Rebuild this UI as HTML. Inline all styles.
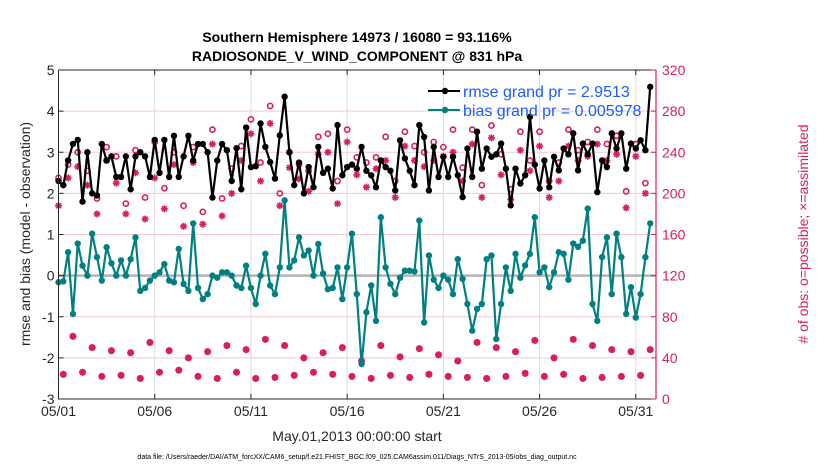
<!DOCTYPE html>
<html><head><meta charset="utf-8"><style>
body{margin:0;background:#fff;font-family:"Liberation Sans",sans-serif}
svg{display:block}
</style></head><body>
<svg id="chart" width="830" height="470" xmlns="http://www.w3.org/2000/svg">
<g id="grid"></g>
<g id="series"></g>
<g id="axes"></g>
<text x="357" y="42" text-anchor="middle" font-size="14" font-weight="bold">Southern Hemisphere 14973 / 16080 = 93.116%</text>
<text x="357" y="61" text-anchor="middle" font-size="14" font-weight="bold">RADIOSONDE_V_WIND_COMPONENT @ 831 hPa</text>
<text x="357" y="441" text-anchor="middle" font-size="14" fill="#262626">May.01,2013 00:00:00 start</text>
<text x="357" y="459" text-anchor="middle" font-size="7" fill="#000">data file: /Users/raeder/DAI/ATM_forcXX/CAM6_setup/f.e21.FHIST_BGC.f09_025.CAM6assim.011/Diags_NTrS_2013-05/obs_diag_output.nc</text>
<text transform="translate(30,234) rotate(-90)" text-anchor="middle" font-size="14" fill="#262626">rmse and bias (model - observation)</text>
<text transform="translate(808,234) rotate(-90)" text-anchor="middle" font-size="14" fill="#d81e5b"># of obs: o=possible; ×=assimilated</text>
<g>
<line x1="428" y1="91" x2="460" y2="91" stroke="#000" stroke-width="2"/><circle cx="445" cy="91" r="3.2" fill="#000"/>
<text x="463" y="97" font-size="16" fill="#1a5cff">rmse grand pr = 2.9513</text>
<line x1="428" y1="110" x2="460" y2="110" stroke="#008080" stroke-width="2"/><circle cx="445" cy="110" r="3.2" fill="#008080"/>
<text x="463" y="116" font-size="16" fill="#1a5cff">bias grand pr = 0.005978</text>
</g>
</svg>
<script>
const rmse=[2.3,2.2,2.8,3.2,3.3,1.8,3.0,2.0,1.95,3.2,2.8,2.9,2.4,2.4,2.9,2.1,2.9,3.0,2.9,2.4,3.3,2.5,3.3,2.4,3.4,2.4,2.9,3.4,2.8,3.2,3.2,3.0,1.9,2.8,3.2,3.05,2.3,3.1,2.1,3.6,
2.64,2.66,3.7,3.13,2.76,2.36,3.41,4.35,3.0,2.2,2.75,2.0,2.64,2.15,3.13,2.5,2.6,2.12,3.66,2.44,2.64,2.7,2.6,3.13,2.55,2.44,2.15,2.8,2.64,2.55,2.07,3.29,2.85,2.55,2.2,3.66,3.37,2.07,3.13,2.4,
2.89,2.4,2.89,2.44,1.91,3.09,2.4,3.5,2.6,3.09,2.89,2.95,3.21,2.6,1.71,2.6,2.24,2.44,3.86,2.7,2.12,2.8,2.15,2.89,2.56,3.09,2.95,3.46,2.56,3.21,2.95,3.21,2.03,2.8,2.64,3.46,3.09,3.46,2.6,3.21,3.09,3.29,3.05,4.59];
const bias=[-0.16,-0.14,0.57,-0.93,0.78,0.24,0,1.02,0.45,-0.12,0.69,0.3,0.0,0.37,0.0,0.4,0.93,-0.37,-0.3,-0.12,0.0,0.08,0.28,-0.12,-0.16,0.65,-0.2,-0.37,1.27,-0.3,-0.57,-0.45,0.0,-0.05,0.08,0.08,0.0,-0.24,-0.3,0.24,
-0.3,-0.69,0.0,0.53,-0.24,-0.45,0.2,1.83,0.2,0.37,0.93,0.49,0.61,0.0,0.77,0.05,-0.33,-0.3,0.2,-0.57,0.2,1.02,-0.45,-2.15,-0.89,-0.24,-1.1,1.42,0.2,-0.2,-0.45,-0.05,0.12,0.12,0.1,1.34,-1.14,0.49,-0.1,-0.3,
0.0,-0.1,-0.45,0.4,-0.08,-0.69,-1.34,-0.81,-0.69,0.4,0.49,-1.54,-0.69,0.2,-0.37,0.53,-0.05,0.25,0.53,1.42,0.08,0.2,-0.28,0.08,0.57,0.53,-0.1,0.78,0.7,0.85,1.63,-0.69,-1.1,0.45,0.93,-0.45,1.02,0.45,-0.93,-0.28,-1.02,-0.45,0.45,1.27];
const nPossible=[215,24,228,61,240,26,222,50,195,22,245,47,236,23,190,45,242,20,196,55,250,26,205,47,240,28,188,40,245,22,182,46,262,20,195,52,224,26,246,48,
272,20,230,58,285,21,200,52,240,23,228,40,222,26,255,45,258,24,212,50,262,22,235,37,230,20,235,52,255,23,212,41,260,21,246,49,240,24,250,43,
245,22,262,37,225,21,262,55,208,20,266,50,238,22,204,46,260,25,232,57,260,22,212,40,230,24,262,58,242,20,250,52,262,21,248,48,256,22,202,46,248,23,210,48];
const nAssim=[188,24,215,61,226,26,208,50,180,22,232,47,210,23,180,45,220,20,175,55,215,26,185,47,228,28,168,40,230,22,170,46,248,20,178,52,200,26,232,48,
258,20,212,58,268,21,188,52,225,23,214,40,202,26,238,45,240,24,190,50,250,22,218,37,206,20,224,52,232,23,196,41,246,21,232,49,226,24,232,43,
236,22,240,37,212,21,248,55,196,20,254,50,218,22,194,46,242,25,222,57,246,22,196,40,212,24,246,58,232,20,236,52,248,21,232,48,238,22,186,46,236,23,200,48];
const leftTicks=[-3,-2,-1,0,1,2,3,4,5];
const rightTicks=[0,40,80,120,160,200,240,280,320];
const dateTicks=[0,5,10,15,20,25,30];
const dateLabels=["05/01","05/06","05/11","05/16","05/21","05/26","05/31"];

const X0=58.5,X1=656,Y0=399,Y1=70,DAYS=31.05;
const NS="http://www.w3.org/2000/svg";
const xDay=d=>X0+d*(X1-X0)/DAYS;
const xIdx=i=>xDay(i*0.25);
const yL=v=>Y0-(v+3)*(Y0-Y1)/8;
const yR=v=>Y0-v*(Y0-Y1)/320;
const MAG="#d81e5b";
function mk(parent,tag,attrs){const e=document.createElementNS(NS,tag);for(const k in attrs)e.setAttribute(k,attrs[k]);parent.appendChild(e);return e;}
const gridG=document.getElementById('grid'),ser=document.getElementById('series'),ax=document.getElementById('axes');

rightTicks.forEach(t=>{if(t>0&&t<320){const l=mk(gridG,'line',{x1:X0,x2:X1,y1:yR(t),y2:yR(t),stroke:'#f4c8d6','stroke-width':1});

}});
dateTicks.forEach(d=>{const l=mk(gridG,'line',{x1:xDay(d),x2:xDay(d),y1:Y1,y2:Y0,stroke:'#dcdcdc','stroke-width':1});

});
const zl=mk(gridG,'line',{x1:X0,x2:X1,y1:yL(0),y2:yL(0),stroke:'#b4b4b4','stroke-width':2.5});



nPossible.forEach((v,i)=>{const c=mk(ser,'circle',{cx:xIdx(i),cy:yR(v),r:2.6,fill:'none',stroke:MAG,'stroke-width':1.6});

});
nAssim.forEach((v,i)=>{const x=xIdx(i),y=yR(v);const g=mk(ser,'g',{stroke:MAG,'stroke-width':1.6});


mk(g,'line',{x1:x-3.5,x2:x+3.5,y1:y,y2:y});mk(g,'line',{x1:x,x2:x,y1:y-3.5,y2:y+3.5});
mk(g,'line',{x1:x-2.5,x2:x+2.5,y1:y-2.5,y2:y+2.5});mk(g,'line',{x1:x-2.5,x2:x+2.5,y1:y+2.5,y2:y-2.5});});

function drawSeries(arr,color,name){
const p=mk(ser,'polyline',{points:arr.map((v,i)=>xIdx(i)+','+yL(v)).join(' '),fill:'none',stroke:color,'stroke-width':2.2,'stroke-linejoin':'round'});


arr.forEach((v,i)=>{const c=mk(ser,'circle',{cx:xIdx(i),cy:yL(v),r:3.2,fill:color});

});}
drawSeries(bias,'#008080','bias');
drawSeries(rmse,'#000','rmse');

const frame=mk(ax,'path',{d:`M${X0},${Y1}V${Y0}H${X1}`,fill:'none',stroke:'#262626','stroke-width':1});


const topBorder=mk(ax,'line',{x1:X0,x2:X1,y1:Y1,y2:Y1,stroke:'#262626','stroke-width':1});


const rightAxis=mk(ax,'line',{x1:X1,x2:X1,y1:Y1,y2:Y0,stroke:MAG,'stroke-width':1.2});


leftTicks.forEach(t=>{mk(ax,'line',{x1:X0,x2:X0+5,y1:yL(t),y2:yL(t),stroke:'#262626'});
const tx=mk(ax,'text',{x:X0-4,y:yL(t)+5,'text-anchor':'end','font-size':14,fill:'#262626'});tx.textContent=t;

});
rightTicks.forEach(t=>{mk(ax,'line',{x1:X1-5,x2:X1,y1:yR(t),y2:yR(t),stroke:MAG});
const tx=mk(ax,'text',{x:X1+6,y:yR(t)+5,'font-size':14,fill:MAG});tx.textContent=t;

});
dateTicks.forEach((d,k)=>{mk(ax,'line',{x1:xDay(d),x2:xDay(d),y1:Y0,y2:Y0-5,stroke:'#262626'});mk(ax,'line',{x1:xDay(d),x2:xDay(d),y1:Y1,y2:Y1+5,stroke:'#262626'});
const tx=mk(ax,'text',{x:xDay(d),y:Y0+17,'text-anchor':'middle','font-size':14,fill:'#262626'});tx.textContent=dateLabels[k];

});
</script>
</body></html>
